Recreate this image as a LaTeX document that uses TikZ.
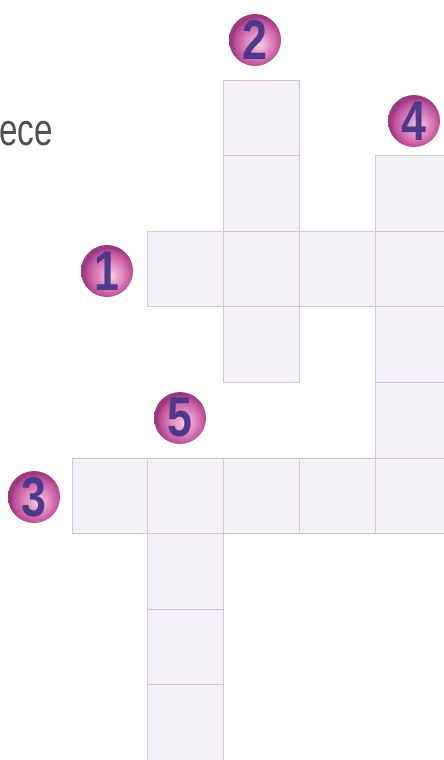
\documentclass[tikz,border=0pt]{standalone}
\usepackage{fontspec}
\setmainfont{Liberation Sans}
\definecolor{cellfill}{HTML}{F4F0F8}
\definecolor{celldraw}{HTML}{D2C6E0}
\definecolor{digitcol}{HTML}{4E3A8C}
\definecolor{textgray}{HTML}{505050}
\definecolor{ballc}{HTML}{F6CDE2}
\definecolor{ballm}{HTML}{DE86BC}
\definecolor{ballo}{HTML}{BC4E98}
\definecolor{balle}{HTML}{9C3A80}
\pgfdeclareradialshading{pinkball}{\pgfpoint{4bp}{-5bp}}{color(0bp)=(ballc); color(12bp)=(ballm); color(22bp)=(ballo); color(25bp)=(balle); color(50bp)=(balle)}
\tikzset{
  cell/.style={draw=celldraw, fill=cellfill, line width=1pt, minimum width=75.8pt, minimum height=75.6pt, inner sep=0pt, anchor=center},
  numball/.style={circle, minimum size=52pt, inner sep=0pt, shading=pinkball, text=digitcol,
    font=\fontsize{56}{56}\selectfont\bfseries},
}
\begin{document}
\begin{tikzpicture}[x=1pt,y=-1pt]
\useasboundingbox (0,0) rectangle (444,760);
\clip (0,0) rectangle (444,760);
\fill[white] (0,0) rectangle (444,760);
% text fragment
\node[anchor=base west, inner sep=0pt, text=textgray, font=\fontsize{45}{45}\selectfont, xscale=0.74] (ece) at (-1,145) {ece};
% cells
\foreach \i/\j in {2/0,2/1,2/2,2/3,1/2,3/2,4/2,4/1,4/3,4/4,4/5,0/5,1/5,2/5,3/5,1/6,1/7,1/8}{
  \node[cell] (c\i-\j) at ({72+75.8*(\i+0.5)},{80+75.6*(\j+0.5)}) {};
}
% number balls
\node[numball] (n2) at (255,40) {\scalebox{0.8}[1]{2}};
\node[numball] (n4) at (414,121) {\scalebox{0.8}[1]{4}};
\node[numball] (n1) at (107,271) {\scalebox{0.8}[1]{1}};
\node[numball] (n5) at (180,418) {\scalebox{0.8}[1]{5}};
\node[numball] (n3) at (34,497) {\scalebox{0.8}[1]{3}};
\end{tikzpicture}
\end{document}
